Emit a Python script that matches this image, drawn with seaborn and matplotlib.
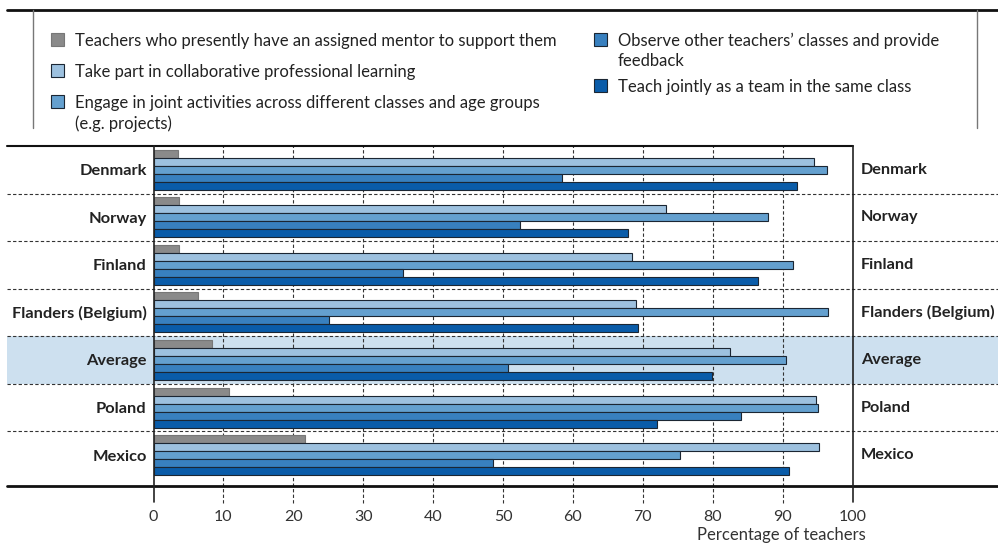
import matplotlib
matplotlib.use("Agg")
import matplotlib.pyplot as plt
import matplotlib.patches as mpatches
import matplotlib.transforms as mtransforms
from matplotlib.lines import Line2D
import pandas as pd
import seaborn as sns

# data
countries = ["Denmark", "Norway", "Finland", "Flanders (Belgium)", "Average", "Poland", "Mexico"]
series = [
    "Teachers who presently have an assigned mentor to support them",
    "Take part in collaborative professional learning",
    "Engage in joint activities across different classes and age groups\n(e.g. projects)",
    "Observe other teachers\u2019 classes and provide\nfeedback",
    "Teach jointly as a team in the same class",
]
mentor = [3.5, 3.6, 3.7, 6.4, 8.3, 10.8, 21.7]
collab_learning = [94.5, 73.3, 68.4, 69.0, 82.5, 94.8, 95.2]
joint_activities = [96.4, 87.9, 91.5, 96.5, 90.5, 95.1, 75.3]
observe = [58.4, 52.4, 35.7, 25.1, 50.7, 84.0, 48.6]
team_teach = [92.1, 67.9, 86.5, 69.3, 79.9, 72.0, 90.9]
xticks = [0, 10, 20, 30, 40, 50, 60, 70, 80, 90, 100]
colors = ["#8a8a8a", "#9dc1df", "#64a0cf", "#3880bf", "#0a5ca9"]

values = [mentor, collab_learning, joint_activities, observe, team_teach]
df = pd.concat(
    [pd.DataFrame({"country": countries, "series": s, "value": v}) for s, v in zip(series, values)],
    ignore_index=True,
)

sns.set_style("white")
plt.rcParams["font.family"] = ["Lato", "DejaVu Sans"]

W, H = 998, 544
fig = plt.figure(figsize=(W / 100, H / 100), dpi=100)
ax = fig.add_axes([153.5 / W, 1 - 486 / H, 699 / W, 340 / H])

sns.barplot(data=df, x="value", y="country", hue="series", order=countries, hue_order=series,
            palette=colors, width=0.84, orient="h", saturation=1, errorbar=None,
            edgecolor="#1b2633", linewidth=0.8, legend=False, ax=ax, zorder=2)
for bar in ax.containers[0]:
    bar.set_edgecolor("#777777")

blend = mtransforms.blended_transform_factory(fig.transFigure, ax.transData)
ymax = 6.65

# highlighted "Average" band across the whole width
avg = countries.index("Average")
ax.add_patch(mpatches.Rectangle((7 / W, avg - 0.5), 991 / W, 1, transform=blend,
                                facecolor="#cde0ef", edgecolor="none", zorder=0, clip_on=False))

# row separators
for i in range(len(countries) - 1):
    ax.plot([7 / W, 1], [i + 0.5, i + 0.5], transform=blend, color="#333333", lw=0.8,
            ls=(0, (3, 2)), clip_on=False, zorder=1)
ax.plot([7 / W, 853 / W], [-0.5, -0.5], transform=blend, color="#111111", lw=1.5, clip_on=False)
ax.plot([7 / W, 1], [ymax, ymax], transform=blend, color="#111111", lw=2, clip_on=False)

# vertical grid with ticks running below the axis
for x in xticks:
    if x in (0, 100):
        ax.axvline(x, ymin=-16 / 340, ymax=1, color="#222222", lw=1.2, clip_on=False, zorder=3)
    else:
        ax.axvline(x, ymin=-17 / 340, ymax=1, color="#333333", lw=0.8, ls=(0, (3, 2)),
                   clip_on=False, zorder=1)

ax.set_xlim(0, 100)
ax.set_ylim(ymax, -0.5)
for s in ax.spines.values():
    s.set_visible(False)
ax.set_xticks(xticks)
ax.set_xticklabels([str(x) for x in xticks])
ax.tick_params(axis="x", length=0, pad=17, labelsize=11.5, labelcolor="#333333")
ax.set_yticks(range(len(countries)))
ax.set_yticklabels(countries, fontweight="bold")
ax.tick_params(axis="y", length=0, pad=5, labelsize=11.8, labelcolor="#222222")
ax.set_xlabel("")
ax.set_ylabel("")

for i, c in enumerate(countries):
    ax.text(861 / W, i, c, transform=blend, ha="left", va="center", fontsize=11.7,
            fontweight="bold", color="#222222")

fig.text(866 / W, 1 - 535 / H, "Percentage of teachers", ha="right", va="center",
         fontsize=12, color="#333333")

# legend frame lines
fig.add_artist(Line2D([7 / W, 1], [1 - 10 / H, 1 - 10 / H], color="#111111", lw=2))
for xf in (33, 977):
    fig.add_artist(Line2D([xf / W, xf / W], [1 - 10 / H, 1 - 128 / H], color="#777777", lw=1))

# legend: two columns, square aligned with the first line of each entry
legend_cols = [(51, [40, 71, 102]), (594, [40, 86])]
k = 0
for x0, rows in legend_cols:
    for yc in rows:
        edge = "#777777" if k == 0 else "#1b2633"
        fig.add_artist(mpatches.Rectangle((x0 / W, 1 - (yc + 6) / H), 13 / W, 13 / H,
                                          transform=fig.transFigure, facecolor=colors[k],
                                          edgecolor=edge, lw=0.8))
        fig.text((x0 + 24) / W, 1 - (yc - 7) / H, series[k], ha="left", va="top",
                 fontsize=12, color="#222222", linespacing=1.3)
        k += 1

plt.savefig("out.png", dpi=100)
plt.close()
